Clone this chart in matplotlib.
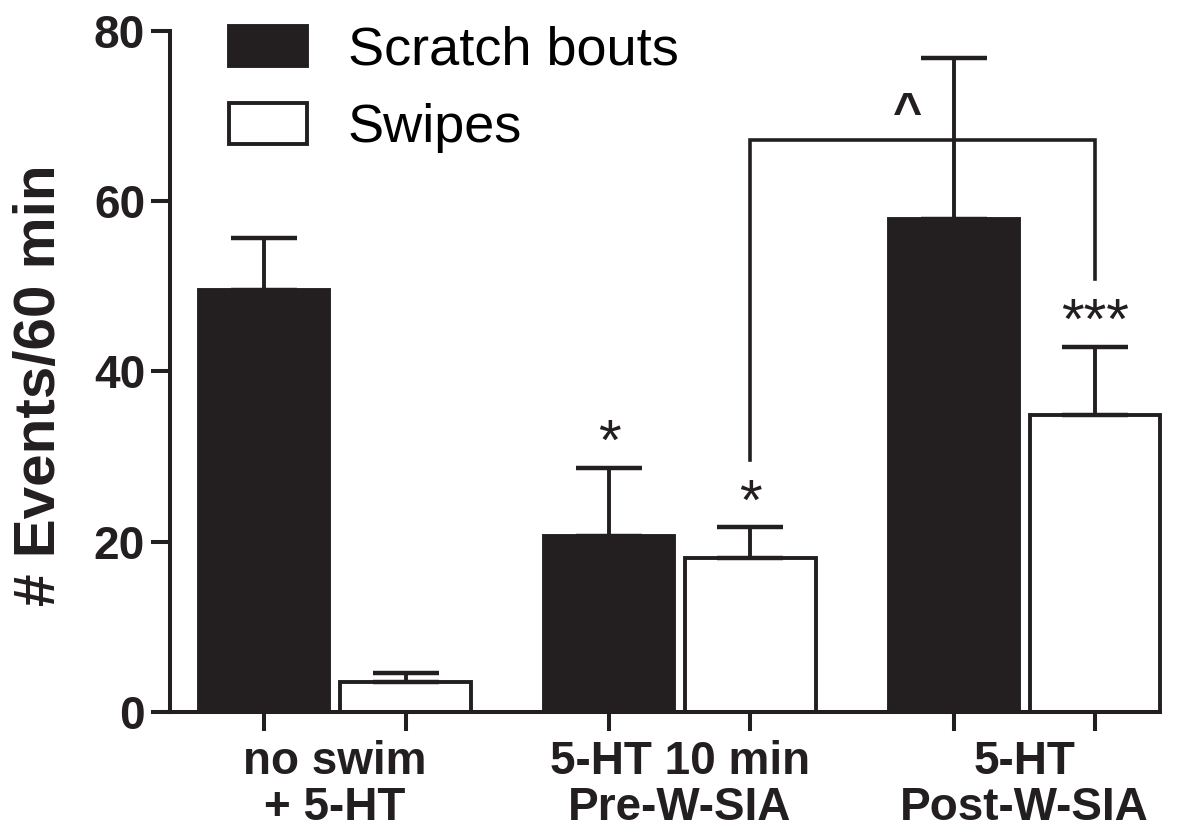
import numpy as np
import matplotlib
matplotlib.use('Agg')
from matplotlib import pyplot as plt
from matplotlib.patches import Patch

plt.rcParams['font.family'] = ['Liberation Sans', 'DejaVu Sans']

### data
groups = ['no swim\n+ 5-HT', '5-HT 10 min\nPre-W-SIA', '5-HT\nPost-W-SIA']
scratch = [49.6, 20.7, 57.9]
scratch_err = [6.1, 8.0, 18.9]
swipes = [3.5, 18.1, 34.9]
swipes_err = [1.1, 3.6, 8.0]
scratch_marks = ['', '*', '']
swipe_marks = ['', '*', '***']

ink = '#231f20'
x = np.arange(len(groups))
off = 0.205
w = 0.378

fig = plt.figure(figsize=(11.99, 8.31), dpi=100)
ax = fig.add_axes([0.1418, 0.1432, 0.8257, 0.8195])

ax.bar(x - off, scratch, w, color=ink, edgecolor=ink, linewidth=2.8, zorder=2, clip_on=False)
ax.bar(x + off, swipes, w, color='white', edgecolor=ink, linewidth=2.8, zorder=2, clip_on=False)
ax.errorbar(x - off, scratch, yerr=[np.zeros(3), scratch_err], fmt='none',
            ecolor=ink, elinewidth=2.8, capsize=24, capthick=3.2, zorder=3, clip_on=False)
ax.errorbar(x + off, swipes, yerr=[np.zeros(3), swipes_err], fmt='none',
            ecolor=ink, elinewidth=2.8, capsize=24, capthick=3.2, zorder=3, clip_on=False)

# significance stars above error bars
for i in range(3):
    if scratch_marks[i]:
        ax.text(x[i] - off, scratch[i] + scratch_err[i] - 0.5, scratch_marks[i],
                ha='center', va='bottom', fontsize=42, color=ink)
    if swipe_marks[i]:
        ax.text(x[i] + off, swipes[i] + swipes_err[i] - 0.5, swipe_marks[i],
                ha='center', va='bottom', fontsize=42, color=ink)

# bracket between Pre and Post swipes
br_top = 67.2
br_left, br_right = x[1] + off, x[2] + off
ax.plot([br_left, br_left, br_right, br_right], [29.6, br_top, br_top, 50.9],
        color=ink, lw=2.6, zorder=4, solid_joinstyle='miter')
ax.text(1.66, br_top + 0.2, '^', ha='center', va='bottom', fontsize=36,
        fontweight='bold', color=ink)

ax.set_xlim(-0.478, 2.393)
ax.set_ylim(0, 80)
ax.set_yticks([0, 20, 40, 60, 80])
ax.set_xticks(np.concatenate([x - off, x + off]))
ax.set_xticklabels([])
for s in ['top', 'right']:
    ax.spines[s].set_visible(False)
for s in ['left', 'bottom']:
    ax.spines[s].set_linewidth(2.9)
    ax.spines[s].set_color(ink)
ax.tick_params(axis='both', length=14, width=2.9, color=ink, labelcolor=ink)
ax.tick_params(axis='y', labelsize=33, pad=4)
for lab in ax.get_yticklabels():
    lab.set_fontweight('bold')

for i, g in enumerate(groups):
    ax.text(x[i], -0.041, g, transform=ax.get_xaxis_transform(), ha='center',
            va='top', fontsize=33, fontweight='bold', color=ink, linespacing=1.06)

fig.text(40 / 1199, 0.537, '# Events/60 min', rotation=90, ha='center', va='center',
         fontsize=42, fontweight='bold', color=ink)

handles = [Patch(facecolor=ink, edgecolor=ink, linewidth=2.8),
           Patch(facecolor='white', edgecolor=ink, linewidth=2.8)]
ax.legend(handles, ['Scratch bouts', 'Swipes'], loc='upper left',
          bbox_to_anchor=(0.06, 1.008), frameon=False, fontsize=39,
          handlelength=1.44, handleheight=0.78, handletextpad=0.74,
          labelspacing=0.5, borderpad=0, borderaxespad=0)

fig.savefig('out.png', dpi=100)
